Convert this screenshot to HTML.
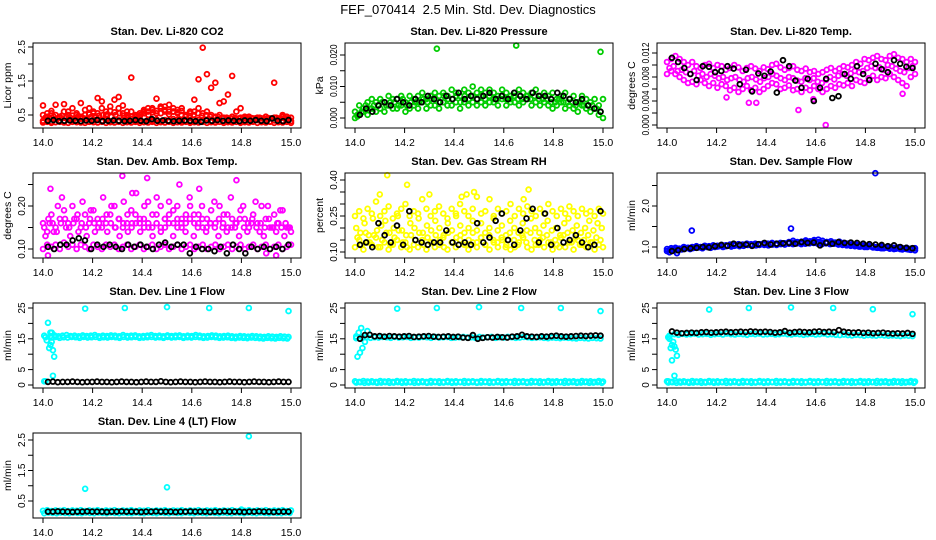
<!DOCTYPE html>
<html><head><meta charset="utf-8"><style>
html,body{margin:0;padding:0;background:#fff}
svg{display:block;font-family:"Liberation Sans",sans-serif}
</style></head><body>
<svg id="chart" width="936" height="540" viewBox="0 0 936 540">
<text x="468" y="14" text-anchor="middle" font-size="13">FEF_070414&#160; 2.5 Min. Std. Dev. Diagnostics</text>
</svg>
<script>
const xTicks=[14.0,14.2,14.4,14.6,14.8,15.0];
// Panel 1 CO2
const co2Base=[0.33,0.36,0.3,0.38,0.34,0.31,0.37,0.35,0.32,0.39,0.34,0.3,0.36,0.38,0.33,0.35,0.31,0.37,0.34,0.36,0.32,0.38,0.35,0.33,0.3,0.36,0.34,0.37,0.31,0.35,0.33,0.38,0.36,0.32,0.34,0.3,0.37,0.35,0.33,0.36,0.31,0.34,0.38,0.32,0.35,0.33,0.36,0.3,0.34,0.37,0.32,0.35,0.33,0.36,0.31,0.34,0.38,0.33,0.35,0.32];
const co2Base2=[0.28,0.3,0.27,0.29,0.3,0.28,0.27,0.3,0.29,0.28,0.27,0.3,0.29,0.28,0.3,0.27,0.29,0.28,0.3,0.27,0.29,0.28,0.3,0.27,0.29,0.28,0.3,0.27,0.29,0.28,0.3,0.27,0.29,0.28,0.3,0.27,0.29,0.28,0.3,0.27,0.29,0.28,0.3,0.27,0.29,0.28,0.3,0.27,0.29,0.28,0.3,0.27,0.29,0.28,0.3,0.27,0.29,0.28,0.3,0.27];
const co2Mid=[0.5,0.45,0.55,0.5,0.42,0.6,0.5,0.48,0.55,0.45,0.5,0.52,0.6,0.55,0.7,0.5,0.62,0.58,0.7,0.55,0.5,0.6,0.45,0.55,0.65,0.6,0.7,0.55,0.75,0.65,0.6,0.7,0.58,0.62,0.5,0.55,0.6,0.7,0.55,0.6,0.5,0.45,0.5,0.42,0.4,0.45,0.4,0.42,0.4,0.45,0.4,0.42,0.4,0.45,0.4,0.42,0.4,0.45,0.4,0.42];
const co2Mid2=[0.42,0.4,0.45,0.4,0.48,0.44,0.42,0.4,0.46,0.42,0.4,0.44,0.45,0.48,0.5,0.52,0.45,0.5,0.55,0.48,0.42,0.45,0.4,0.5,0.55,0.5,0.58,0.62,0.55,0.6,0.52,0.6,0.65,0.5,0.45,0.48,0.5,0.55,0.48,0.5,0.45,0.42,0.44,0.4,0.42,0.4,0.41,0.4,0.42,0.4,0.41,0.4,0.42,0.4,0.41,0.4,0.42,0.4,0.41,0.4];
const co2High=[0.78,0.55,0.62,0.8,0.45,0.82,0.6,0.7,0.5,0.85,0.65,0.7,0.55,1.0,0.9,0.6,0.75,0.95,1.03,0.78,0.6,1.6,0.5,0.45,0.6,0.7,0.65,0.98,0.7,0.75,0.8,0.6,0.55,0.7,0.5,0.6,0.95,1.55,2.48,1.7,1.3,1.45,0.85,0.9,1.1,1.65,0.6,0.7,0.45,0.4,null,null,null,null,null,1.45,null,0.5,0.45,null];
const co2Black=[0.33,0.35,0.32,0.33,0.34,0.33,0.32,0.34,0.33,0.35,0.32,0.33,0.34,0.33,0.32,0.33,0.35,0.33,0.32,0.38,0.33,0.34,0.33,0.32,0.33,0.34,0.33,0.32,0.3,0.34,0.33,0.35,0.33,0.34,0.33,0.32,0.34,0.33,0.35,0.33,0.32,0.4,0.33,0.32,0.35];
// Panel 2 pressure
const presLo=[0.000,0.001,0.002,0.001,0.003,0.002,0.003,0.002,0.004,0.003,0.003,0.004,0.002,0.003,0.004,0.003,0.005,0.003,0.004,0.004,0.003,0.005,0.004,0.004,0.005,0.003,0.005,0.004,0.005,0.004,0.005,0.004,0.005,0.005,0.004,0.006,0.004,0.005,0.005,0.004,0.005,0.006,0.004,0.005,0.004,0.005,0.004,0.003,0.004,0.005,0.003,0.004,0.003,0.002,0.004,0.003,0.002,0.003,0.001,0.000];
const presHi=[0.002,0.004,0.003,0.005,0.006,0.005,0.006,0.005,0.007,0.006,0.006,0.007,0.005,0.007,0.006,0.007,0.008,0.006,0.007,0.008,0.007,0.008,0.007,0.009,0.008,0.007,0.009,0.008,0.010,0.008,0.009,0.008,0.009,0.008,0.007,0.009,0.008,0.007,0.008,0.009,0.008,0.007,0.008,0.009,0.007,0.008,0.007,0.008,0.006,0.007,0.008,0.006,0.007,0.005,0.007,0.006,0.005,0.006,0.004,0.006];
const presMid=[0.001,0.002,0.004,0.003,0.004,0.004,0.005,0.004,0.005,0.005,0.004,0.006,0.004,0.005,0.005,0.005,0.006,0.005,0.006,0.006,0.005,0.007,0.006,0.006,0.007,0.005,0.007,0.006,0.007,0.006,0.007,0.006,0.007,0.006,0.006,0.007,0.006,0.006,0.007,0.006,0.006,0.007,0.006,0.007,0.006,0.006,0.006,0.005,0.005,0.006,0.005,0.005,0.005,0.004,0.005,0.004,0.004,0.004,0.003,0.002];
const presOut=[[14.33,0.022],[14.65,0.023],[14.99,0.021],[14.01,0.0005]];
const presBlack=[0.001,0.003,0.002,0.004,0.005,0.004,0.006,0.005,0.004,0.006,0.005,0.007,0.006,0.005,0.007,0.006,0.008,0.006,0.007,0.006,0.007,0.008,0.006,0.007,0.006,0.008,0.007,0.006,0.008,0.007,0.007,0.006,0.008,0.007,0.006,0.005,0.006,0.004,0.003,0.002];
// Panel 3 temp
const tempHi=[0.0105,0.011,0.0115,0.011,0.0105,0.01,0.0105,0.0098,0.0095,0.01,0.0102,0.0095,0.01,0.0098,0.0092,0.0095,0.01,0.0096,0.009,0.0095,0.0098,0.0094,0.009,0.0096,0.0093,0.01,0.0102,0.0096,0.0092,0.0095,0.0098,0.0092,0.009,0.0094,0.0088,0.009,0.0085,0.0088,0.0092,0.0095,0.009,0.0094,0.0098,0.0096,0.01,0.0105,0.0102,0.011,0.0108,0.0112,0.0115,0.011,0.0108,0.0115,0.0118,0.0112,0.011,0.0105,0.011,0.0105];
const tempLo=[0.0085,0.009,0.0085,0.008,0.0075,0.007,0.0072,0.0068,0.0075,0.007,0.0065,0.007,0.0062,0.0068,0.0065,0.0058,0.0062,0.0055,0.006,0.0065,0.0058,0.0062,0.0055,0.006,0.0065,0.007,0.0068,0.006,0.0062,0.0066,0.0058,0.006,0.0055,0.0062,0.0058,0.0065,0.006,0.0055,0.006,0.0065,0.0062,0.0068,0.0066,0.007,0.0065,0.0075,0.0072,0.007,0.0078,0.0082,0.0075,0.008,0.0078,0.0085,0.008,0.0075,0.007,0.0065,0.008,0.0085];
const tempMid=[0.0095,0.0098,0.009,0.0092,0.0088,0.0085,0.009,0.0082,0.0085,0.008,0.0085,0.0082,0.0078,0.008,0.0075,0.0078,0.008,0.0075,0.0072,0.0078,0.008,0.0076,0.0072,0.0078,0.008,0.0085,0.0082,0.0078,0.0075,0.008,0.0078,0.0074,0.0072,0.0078,0.0075,0.0078,0.0072,0.007,0.0075,0.008,0.0076,0.0082,0.0085,0.0082,0.0086,0.009,0.0088,0.009,0.0095,0.0098,0.0095,0.0096,0.0092,0.01,0.0098,0.0094,0.009,0.0088,0.0095,0.0098];
const tempOut=[[14.64,0.0],[14.53,0.0025],[14.95,0.0052],[14.36,0.0037],[14.33,0.0037],[14.24,0.0046],[14.59,0.0043]];
const tempBlack=[0.0112,0.0105,0.0095,0.0085,0.0075,0.0098,0.0097,0.0088,0.009,0.0098,0.0094,0.0068,0.0092,0.0056,0.0086,0.0082,0.0089,0.0054,0.0108,0.0098,0.0074,0.0062,0.0077,0.004,0.0062,0.0077,0.0045,0.0048,0.0085,0.0077,0.0098,0.0085,0.0075,0.0102,0.0093,0.0088,0.0108,0.0102,0.0097,0.0095];
// Panel 4 amb box temp
const ambUp1=[0.16,0.14,0.18,0.15,0.17,0.19,0.16,0.2,0.17,0.15,0.18,0.16,0.19,0.17,0.15,0.16,0.18,0.2,0.17,0.15,0.16,0.19,0.18,0.16,0.17,0.21,0.15,0.18,0.2,0.17,0.16,0.19,0.15,0.17,0.18,0.2,0.16,0.18,0.15,0.17,0.19,0.16,0.2,0.18,0.15,0.17,0.16,0.19,0.17,0.15,0.18,0.16,0.2,0.17,0.15,0.18,0.16,0.19,0.15,0.14];
const ambUp2=[0.13,0.16,0.14,0.2,0.22,0.15,0.13,0.17,0.14,0.21,0.13,0.19,0.14,0.16,0.22,0.14,0.2,0.15,0.13,0.21,0.14,0.16,0.23,0.14,0.2,0.15,0.13,0.22,0.14,0.15,0.21,0.13,0.2,0.16,0.14,0.22,0.13,0.15,0.2,0.14,0.16,0.21,0.13,0.15,0.14,0.22,0.15,0.13,0.2,0.14,0.16,0.21,0.14,0.13,0.2,0.15,0.14,0.19,0.13,0.15];
const ambUp3=[0.15,0.17,0.16,0.14,0.16,0.17,0.15,0.16,0.18,0.16,0.15,0.17,0.16,0.15,0.17,0.18,0.16,0.15,0.17,0.16,0.18,0.15,0.16,0.17,0.15,0.16,0.18,0.16,0.15,0.17,0.18,0.16,0.17,0.15,0.16,0.17,0.18,0.16,0.17,0.15,0.16,0.15,0.17,0.16,0.18,0.15,0.16,0.17,0.15,0.16,0.17,0.15,0.16,0.15,0.17,0.15,0.16,0.15,0.16,0.15];
const ambLow=[0.1,0.11,0.105,0.11,0.1,0.115,0.105,0.11,0.1,0.11,0.105,0.1,0.11,0.105,0.1,0.11,0.105,0.11,0.1,0.105,0.11,0.1,0.105,0.11,0.1,0.105,0.11,0.1,0.105,0.11,0.1,0.105,0.11,0.1,0.105,0.11,0.1,0.105,0.11,0.1,0.105,0.11,0.1,0.105,0.11,0.1,0.105,0.11,0.1,0.105,0.11,0.1,0.105,0.11,0.1,0.105,0.11,0.1,0.105,0.11];
const ambOut=[[14.02,0.085],[14.03,0.24],[14.32,0.27],[14.42,0.265],[14.55,0.25],[14.63,0.24],[14.78,0.26],[14.36,0.23],[14.94,0.085],[14.9,0.09]];
const ambBlack=[0.105,0.1,0.11,0.11,0.12,0.125,0.12,0.1,0.11,0.105,0.11,0.105,0.1,0.11,0.105,0.11,0.105,0.1,0.11,0.115,0.105,0.11,0.11,0.09,0.105,0.1,0.1,0.095,0.105,0.09,0.11,0.1,0.09,0.105,0.1,0.105,0.1,0.105,0.1,0.11];
// Panel 5 RH
const rh1=[0.12,0.15,0.11,0.14,0.13,0.16,0.12,0.14,0.11,0.13,0.15,0.12,0.14,0.11,0.13,0.12,0.15,0.11,0.14,0.12,0.13,0.16,0.11,0.14,0.12,0.15,0.13,0.11,0.14,0.12,0.16,0.13,0.11,0.14,0.12,0.15,0.13,0.11,0.12,0.14,0.16,0.12,0.11,0.13,0.15,0.12,0.14,0.11,0.13,0.16,0.12,0.14,0.11,0.15,0.13,0.12,0.14,0.11,0.13,0.12];
const rh2=[0.2,0.18,0.22,0.17,0.24,0.19,0.21,0.23,0.18,0.2,0.25,0.19,0.17,0.22,0.2,0.24,0.18,0.21,0.19,0.23,0.2,0.17,0.22,0.19,0.25,0.21,0.18,0.2,0.23,0.19,0.22,0.18,0.2,0.24,0.19,0.21,0.17,0.23,0.2,0.18,0.22,0.19,0.24,0.2,0.18,0.21,0.23,0.19,0.2,0.17,0.22,0.24,0.19,0.21,0.18,0.2,0.23,0.19,0.22,0.2];
const rh3=[0.25,0.27,0.24,0.28,0.26,0.31,0.25,0.27,0.29,0.24,0.26,0.28,0.3,0.25,0.27,0.26,0.32,0.28,0.25,0.27,0.29,0.26,0.24,0.28,0.26,0.3,0.27,0.25,0.28,0.33,0.26,0.27,0.32,0.25,0.28,0.26,0.27,0.3,0.25,0.28,0.26,0.29,0.27,0.25,0.28,0.26,0.3,0.27,0.25,0.28,0.26,0.29,0.27,0.25,0.28,0.26,0.27,0.25,0.28,0.26];
const rh4=[0.16,0.13,0.18,0.14,0.17,0.12,0.15,0.18,0.13,0.16,0.19,0.14,0.12,0.17,0.15,0.18,0.13,0.16,0.14,0.17,0.15,0.12,0.18,0.14,0.16,0.17,0.13,0.15,0.18,0.14,0.16,0.13,0.17,0.15,0.14,0.16,0.12,0.18,0.15,0.13,0.17,0.14,0.18,0.15,0.13,0.16,0.17,0.14,0.15,0.12,0.17,0.18,0.14,0.16,0.13,0.15,0.17,0.14,0.16,0.15];
const rhOut=[[14.13,0.42],[14.1,0.34],[14.21,0.38],[14.3,0.34],[14.45,0.34],[14.48,0.35],[14.7,0.36],[14.68,0.32],[14.43,0.33]];
const rhBlack=[0.13,0.14,0.12,0.22,0.17,0.14,0.21,0.13,0.27,0.15,0.14,0.13,0.14,0.14,0.19,0.14,0.13,0.14,0.13,0.22,0.14,0.16,0.23,0.26,0.15,0.13,0.19,0.24,0.28,0.14,0.26,0.13,0.2,0.14,0.15,0.17,0.14,0.12,0.13,0.27];
// Panel 6 sample flow
const sf1=[0.95,0.97,0.98,0.96,1.0,0.98,1.0,1.02,1.0,1.03,1.02,1.04,1.03,1.05,1.04,1.06,1.05,1.07,1.06,1.08,1.07,1.08,1.07,1.09,1.08,1.1,1.08,1.1,1.09,1.11,1.1,1.12,1.1,1.12,1.11,1.13,1.12,1.1,1.12,1.1,1.11,1.09,1.1,1.08,1.07,1.06,1.05,1.04,1.03,1.02,1.0,1.01,0.99,1.0,0.98,0.99,0.97,0.98,0.96,0.97];
const sf2=[0.9,0.93,0.92,0.95,0.96,0.98,0.97,1.0,0.99,1.02,1.0,1.02,1.01,1.03,1.02,1.04,1.03,1.05,1.04,1.06,1.05,1.07,1.05,1.08,1.06,1.08,1.07,1.09,1.08,1.12,1.15,1.1,1.13,1.16,1.14,1.17,1.18,1.15,1.12,1.14,1.1,1.13,1.08,1.05,1.04,1.03,1.01,1.0,1.02,0.99,0.98,0.97,0.99,0.96,0.95,0.97,0.94,0.95,0.93,0.92];
const sf3=[0.92,0.94,0.96,0.94,0.97,0.95,0.98,0.99,0.97,1.0,0.98,1.0,1.02,1.0,1.03,1.01,1.04,1.02,1.03,1.05,1.03,1.04,1.06,1.05,1.04,1.06,1.05,1.07,1.06,1.08,1.07,1.09,1.07,1.08,1.09,1.1,1.08,1.07,1.09,1.07,1.08,1.06,1.05,1.04,1.03,1.02,1.01,1.02,1.0,1.01,0.99,0.98,0.97,0.98,0.97,0.96,0.95,0.96,0.94,0.95];
const sfOut=[[14.84,2.8],[14.1,1.4],[14.5,1.45],[14.01,0.87],[14.04,0.85]];
const sfBlack=[0.9,0.92,0.95,0.97,0.98,1.0,0.99,1.02,1.05,1.03,1.08,1.05,1.06,1.03,1.07,1.1,1.06,1.08,1.09,1.1,1.08,1.12,1.1,1.11,1.04,1.1,1.08,1.12,1.1,1.11,1.1,1.08,1.07,1.06,1.05,1.02,1.04,1.0,0.98,0.97];
// Line flows
const bandHigh=[15.9,16.1,15.8,16.0,16.2,15.9,16.0,15.8,16.1,15.9,16.0,16.2,15.8,16.0,15.9,16.1,16.0,15.8,16.2,15.9,16.0,16.1,15.8,15.9,16.0,16.2,15.9,16.0,15.8,16.1,15.9,16.0,16.1,15.8,16.0,15.9,16.2,16.0,15.8,15.9,16.1,16.0,15.8,15.9,16.0,15.8,15.7,15.9,15.8,15.7,15.9,15.8,15.7,15.6,15.8,15.7,15.6,15.8,15.7,15.6];
const bandLow=[15.4,15.6,15.3,15.5,15.4,15.6,15.5,15.3,15.6,15.4,15.5,15.6,15.3,15.5,15.4,15.6,15.5,15.3,15.6,15.4,15.5,15.6,15.3,15.4,15.5,15.6,15.4,15.5,15.3,15.6,15.4,15.5,15.6,15.3,15.5,15.4,15.6,15.5,15.3,15.4,15.6,15.5,15.3,15.4,15.5,15.3,15.2,15.4,15.3,15.2,15.4,15.3,15.2,15.1,15.3,15.2,15.1,15.3,15.2,15.1];
const lowBandA=[1.2,1.0,1.3,1.1,1.2,1.0,1.3,1.1,1.2,1.0,1.3,1.1,1.2,1.0,1.3,1.1,1.2,1.0,1.3,1.1,1.2,1.0,1.3,1.1,1.2,1.0,1.3,1.1,1.2,1.0,1.3,1.1,1.2,1.0,1.3,1.1,1.2,1.0,1.3,1.1,1.2,1.0,1.3,1.1,1.2,1.0,1.3,1.1,1.2,1.0,1.3,1.1,1.2,1.0,1.3,1.1,1.2,1.0,1.3,1.1];
const lowBandB=[0.8,0.9,0.7,0.8,0.9,0.7,0.8,0.9,0.7,0.8,0.9,0.7,0.8,0.9,0.7,0.8,0.9,0.7,0.8,0.9,0.7,0.8,0.9,0.7,0.8,0.9,0.7,0.8,0.9,0.7,0.8,0.9,0.7,0.8,0.9,0.7,0.8,0.9,0.7,0.8,0.9,0.7,0.8,0.9,0.7,0.8,0.9,0.7,0.8,0.9,0.7,0.8,0.9,0.7,0.8,0.9,0.7,0.8,0.9,0.7];
const line1Black=[1.0,1.1,0.9,1.0,1.0,1.1,1.0,0.9,1.0,1.0,1.1,1.0,1.0,0.9,1.0,1.1,1.0,1.0,0.9,1.0,1.1,1.0,1.0,1.2,1.0,0.9,1.0,1.1,1.0,1.0,0.9,1.0,1.1,1.0,1.0,0.9,1.0,1.1,1.0,1.0,0.9,1.0,1.1,1.0,1.0,0.9,1.0,1.1,1.0,1.0];
const line1Start=[[14.01,15.5],[14.015,14.5],[14.02,20.2],[14.025,12],[14.03,17],[14.03,13],[14.035,14],[14.04,11.3],[14.045,9.2],[14.035,17],[14.04,3],[14.01,1.2],[14.005,16],[14.005,1.2]];
const outliers25=[[14.17,24.8],[14.33,25],[14.5,25.3],[14.67,25],[14.83,25],[14.99,24]];
const line2Black=[15.0,16.2,16.3,15.8,15.9,15.7,15.9,15.8,15.7,15.8,15.9,15.6,15.7,15.8,15.9,15.7,15.6,15.7,15.8,15.6,15.7,15.4,15.3,16.2,15.0,15.3,15.5,15.4,15.6,15.5,15.4,15.7,15.8,16.3,15.8,15.7,15.6,15.8,15.7,15.9,16.0,15.8,15.7,15.8,15.9,16.0,15.9,16.0,16.1,16.0];
const line2Start=[[14.01,9.2],[14.02,10.5],[14.03,12],[14.04,14],[14.025,18.5],[14.015,17],[14.05,17.5],[14.005,15.8],[14.005,15.2]];
const line3Cyan=[16.5,16.3,16.6,16.4,16.5,16.7,16.4,16.5,16.6,16.3,16.5,16.6,16.4,16.7,16.5,16.4,16.6,16.5,16.3,16.6,16.5,16.7,16.4,16.5,16.6,16.4,16.5,16.7,16.5,16.4,16.6,16.5,16.3,16.5,16.6,16.4,16.5,16.7,16.4,16.5,16.3,16.2,16.4,16.2,16.1,16.3,16.2,16.0,16.2,16.1,16.0,16.2,16.1,16.0,16.1,16.0,15.9,16.1,16.0,15.9];
const line3Black=[17.4,17.0,16.8,16.9,17.0,16.9,17.1,17.2,17.0,17.1,17.2,17.3,17.1,17.2,17.3,17.2,17.4,17.3,17.2,17.3,17.2,17.0,17.1,17.5,17.0,17.2,17.3,17.2,17.1,17.3,17.4,17.2,17.3,17.2,17.8,17.3,17.1,17.0,17.1,16.9,17.0,16.8,16.9,17.0,16.8,16.7,16.8,16.7,16.9,16.6];
const line3Start=[[14.01,16],[14.01,15],[14.015,12],[14.02,13],[14.025,14],[14.02,8],[14.03,12.5],[14.035,11.5],[14.04,9.5],[14.03,3],[14.005,15.5],[14.005,1.2]];
const line3Out=[[14.17,24.5],[14.33,25],[14.5,25.2],[14.67,25],[14.83,24.6],[14.99,23]];
const lt1=[0.18,0.2,0.17,0.19,0.18,0.2,0.17,0.19,0.18,0.2,0.17,0.19,0.18,0.2,0.17,0.19,0.18,0.2,0.17,0.19,0.18,0.2,0.17,0.19,0.18,0.2,0.17,0.19,0.18,0.2,0.17,0.19,0.18,0.2,0.17,0.19,0.18,0.2,0.17,0.19,0.18,0.2,0.17,0.19,0.18,0.2,0.17,0.19,0.18,0.2,0.17,0.19,0.18,0.2,0.17,0.19,0.18,0.2,0.17,0.19];
const lt2=[0.1,0.12,0.11,0.1,0.12,0.11,0.1,0.12,0.11,0.1,0.12,0.11,0.1,0.12,0.11,0.1,0.12,0.11,0.1,0.12,0.11,0.1,0.12,0.11,0.1,0.12,0.11,0.1,0.12,0.11,0.1,0.12,0.11,0.1,0.12,0.11,0.1,0.12,0.11,0.1,0.12,0.11,0.1,0.12,0.11,0.1,0.12,0.11,0.1,0.12,0.11,0.1,0.12,0.11,0.1,0.12,0.11,0.1,0.12,0.11];
const ltOut=[[14.17,0.9],[14.5,0.95],[14.83,2.62],[14.8,0.22]];
const ltBlack=[0.15,0.15,0.16,0.15,0.15,0.14,0.15,0.15,0.16,0.15,0.15,0.15,0.14,0.15,0.15,0.16,0.15,0.15,0.15,0.14,0.15,0.15,0.16,0.15,0.15,0.15,0.14,0.15,0.15,0.16,0.15,0.15,0.15,0.14,0.15,0.15,0.16,0.15,0.15,0.15,0.14,0.15,0.15,0.16,0.15,0.15,0.14,0.15,0.15,0.15];

const RED='#ff0000',GRN='#00cc00',MAG='#ff00ff',YEL='#ffff00',BLU='#0000ff',CYA='#00ffff',BLK='#000000';
const panels=[
 {name:'co2',title:'Stan. Dev. Li-820 CO2',ylab:'Licor ppm',col:0,row:0,v1:2.5,p1:47,v2:0.5,p2:115,ticks:[0.5,1,1.5,2,2.5],labels:['0.5','1.5','2.5'],
  series:[{ys:co2Base2,c:RED},{ys:co2Base,c:RED},{ys:co2Mid2,c:RED,x0:14.01,x1:14.99},{ys:co2Mid,c:RED},{ys:co2High,c:RED},{ys:co2Black,c:BLK,x0:14.02,x1:14.99}]},
 {name:'pressure',title:'Stan. Dev. Li-820 Pressure',ylab:'kPa',col:1,row:0,v1:0.02,p1:55,v2:0,p2:118,ticks:[0,0.005,0.01,0.015,0.02],labels:['0.000','0.010','0.020'],
  series:[{ys:presLo,c:GRN},{ys:presMid,c:GRN,x0:14.01,x1:14.99},{ys:presHi,c:GRN},{pts:presOut,c:GRN},{ys:presBlack,c:BLK,x0:14.02,x1:14.99}]},
 {name:'temp',title:'Stan. Dev. Li-820 Temp.',ylab:'degrees C',col:2,row:0,v1:0.012,p1:53,v2:0,p2:125,ticks:[0,0.002,0.004,0.006,0.008,0.01,0.012],labels:['0.000','0.004','0.008','0.012'],
  series:[{ys:tempHi,c:MAG},{ys:tempMid,c:MAG,x0:14.01,x1:14.99},{ys:tempLo,c:MAG},{pts:tempOut,c:MAG},{ys:tempBlack,c:BLK,x0:14.02,x1:14.99}]},
 {name:'amb-box',title:'Stan. Dev. Amb. Box Temp.',ylab:'degrees C',col:0,row:1,v1:0.2,p1:206,v2:0.1,p2:249,ticks:[0.1,0.15,0.2,0.25],labels:['0.10','0.20'],
  series:[{ys:ambUp1,c:MAG},{ys:ambUp2,c:MAG,x0:14.01,x1:14.99},{ys:ambUp3,c:MAG,x0:14.005,x1:14.995},{ys:ambLow,c:MAG},{pts:ambOut,c:MAG},{ys:ambBlack,c:BLK,x0:14.02,x1:14.99}]},
 {name:'rh',title:'Stan. Dev. Gas Stream RH',ylab:'percent',col:1,row:1,v1:0.4,p1:180,v2:0.1,p2:252,ticks:[0.1,0.15,0.2,0.25,0.3,0.35,0.4],labels:['0.10','0.25','0.40'],
  series:[{ys:rh1,c:YEL},{ys:rh4,c:YEL,x0:14.01,x1:14.99},{ys:rh2,c:YEL,x0:14.005,x1:14.995},{ys:rh3,c:YEL},{pts:rhOut,c:YEL},{ys:rhBlack,c:BLK,x0:14.02,x1:14.99}]},
 {name:'sample-flow',title:'Stan. Dev. Sample Flow',ylab:'ml/min',col:2,row:1,v1:2.0,p1:206,v2:1.0,p2:247,ticks:[1,1.5,2,2.5],labels:['1.0','2.0'],
  series:[{ys:sf1,c:BLU},{ys:sf3,c:BLU,x0:14.01,x1:14.99},{ys:sf2,c:BLU},{pts:sfOut,c:BLU},{ys:sfBlack,c:BLK,x0:14.02,x1:14.99}]},
 {name:'line1',title:'Stan. Dev. Line 1 Flow',ylab:'ml/min',col:0,row:2,v1:25,p1:308,v2:0,p2:385,ticks:[0,5,10,15,20,25],labels:['0','5','15','25'],
  series:[{ys:bandHigh,c:CYA,x0:14.03,x1:14.99},{ys:bandLow,c:CYA,x0:14.035,x1:14.985},{pts:line1Start,c:CYA},{pts:outliers25,c:CYA},{ys:line1Black,c:BLK,x0:14.02,x1:14.99}]},
 {name:'line2',title:'Stan. Dev. Line 2 Flow',ylab:'ml/min',col:1,row:2,v1:25,p1:308,v2:0,p2:385,ticks:[0,5,10,15,20,25],labels:['0','5','15','25'],
  series:[{ys:lowBandA,c:CYA},{ys:lowBandB,c:CYA,x0:14.005,x1:14.995},{ys:bandLow,c:CYA,x0:14.03,x1:14.99},{pts:line2Start,c:CYA},{pts:outliers25,c:CYA},{ys:line2Black,c:BLK,x0:14.02,x1:14.99}]},
 {name:'line3',title:'Stan. Dev. Line 3 Flow',ylab:'ml/min',col:2,row:2,v1:25,p1:308,v2:0,p2:385,ticks:[0,5,10,15,20,25],labels:['0','5','15','25'],
  series:[{ys:lowBandA,c:CYA},{ys:lowBandB,c:CYA,x0:14.005,x1:14.995},{ys:line3Cyan,c:CYA,x0:14.03,x1:14.99},{pts:line3Start,c:CYA},{pts:line3Out,c:CYA},{ys:line3Black,c:BLK,x0:14.02,x1:14.99}]},
 {name:'line4',title:'Stan. Dev. Line 4 (LT) Flow',ylab:'ml/min',col:0,row:3,v1:2.5,p1:440,v2:0.5,p2:501,ticks:[0.5,1,1.5,2,2.5],labels:['0.5','1.5','2.5'],
  series:[{ys:lt1,c:CYA},{ys:lt2,c:CYA,x0:14.005,x1:14.995},{pts:ltOut,c:CYA},{ys:ltBlack,c:BLK,x0:14.02,x1:14.99}]}
];
const NS='http://www.w3.org/2000/svg';
const svg=document.getElementById('chart');
function mk(tag,attrs,parent){const e=document.createElementNS(NS,tag);for(const k in attrs)e.setAttribute(k,attrs[k]);(parent||svg).appendChild(e);return e;}
panels.forEach(p=>{
  const bx=33+312*p.col, by=43+130*p.row, bw=268, bh=85;
  const xS=v=>43+312*p.col+(v-14)*248;
  const yS=v=>p.p2+(v-p.v2)*(p.p1-p.p2)/(p.v1-p.v2);
  const g=mk('g',{});
  
  
  const t=mk('text',{x:bx+bw/2,y:by-8,'text-anchor':'middle','font-size':11,'font-weight':'bold'},g);
  t.textContent=p.title;
  
  
  const yl=mk('text',{x:0,y:0,'text-anchor':'middle','font-size':10.5,transform:`translate(${bx-22},${by+bh/2}) rotate(-90)`},g);
  yl.textContent=p.ylab;
  
  
  const pg=mk('g',{fill:'none','stroke-width':1.8},g);
  
  
  p.series.forEach(s=>{
    if(s.pts){s.pts.forEach(pt=>{const c=mk('circle',{cx:xS(pt[0]),cy:yS(pt[1]),r:2.4,stroke:s.c},pg);
      
      });}
    else{const x0=s.x0!==undefined?s.x0:14.0,x1=s.x1!==undefined?s.x1:15.0,n=s.ys.length;
      s.ys.forEach((v,i)=>{if(v===null)return;const xv=x0+(x1-x0)*i/(n-1);
        const c=mk('circle',{cx:xS(xv),cy:yS(v),r:2.4,stroke:s.c},pg);
        
        });}
  });
  const box=mk('rect',{x:bx,y:by,width:bw,height:bh,fill:'none',stroke:'#000','stroke-width':1},g);
  
  
  const ax=mk('g',{stroke:'#000','stroke-width':1},g);
  
  
  xTicks.forEach(v=>{mk('line',{x1:xS(v),x2:xS(v),y1:by+bh,y2:by+bh+5},ax);
    const tl=mk('text',{x:xS(v),y:by+bh+18,'text-anchor':'middle','font-size':10.5,stroke:'none',fill:'#000'},g);
    tl.textContent=v.toFixed(1);
    
    });
  const ay=mk('g',{stroke:'#000','stroke-width':1},g);
  
  
  p.ticks.forEach(v=>{mk('line',{x1:bx-5,x2:bx,y1:yS(v),y2:yS(v)},ay);});
  p.labels.forEach(l=>{const v=parseFloat(l);
    const attrs={x:0,y:0,'text-anchor':'middle','font-size':10,transform:`translate(${bx-8},${yS(v)}) rotate(-90)`};
    if(l.length>=5){attrs.textLength=21;attrs.lengthAdjust='spacingAndGlyphs';}
    const tl=mk('text',attrs,g);
    tl.textContent=l;
    
    });
});
</script>
</body></html>
